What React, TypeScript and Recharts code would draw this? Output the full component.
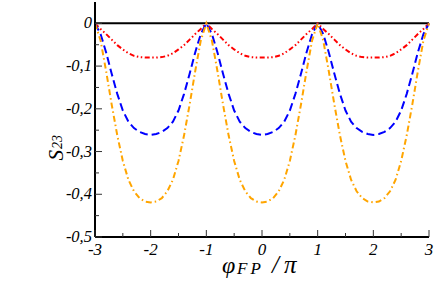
import React from 'react';
import { LineChart, Line, XAxis, YAxis, ReferenceLine, Label } from 'recharts';

// phi_FP / pi sample positions
const phi = [
  -3, -2.9, -2.8, -2.7, -2.6, -2.5, -2.4, -2.3, -2.2, -2.1,
  -2, -1.9, -1.8, -1.7, -1.6, -1.5, -1.4, -1.3, -1.2, -1.1,
  -1, -0.9, -0.8, -0.7, -0.6, -0.5, -0.4, -0.3, -0.2, -0.1,
  0, 0.1, 0.2, 0.3, 0.4, 0.5, 0.6, 0.7, 0.8, 0.9,
  1, 1.1, 1.2, 1.3, 1.4, 1.5, 1.6, 1.7, 1.8, 1.9,
  2, 2.1, 2.2, 2.3, 2.4, 2.5, 2.6, 2.7, 2.8, 2.9,
  3,
];

// S23, one value per phi sample
const redS23 = [
  0, -0.013, -0.025, -0.038, -0.051, -0.061, -0.07, -0.076, -0.079, -0.08,
  -0.08, -0.08, -0.079, -0.076, -0.07, -0.061, -0.051, -0.038, -0.025, -0.013,
  0, -0.013, -0.025, -0.038, -0.051, -0.061, -0.07, -0.076, -0.079, -0.08,
  -0.08, -0.08, -0.079, -0.076, -0.07, -0.061, -0.051, -0.038, -0.025, -0.013,
  0, -0.013, -0.025, -0.038, -0.051, -0.061, -0.07, -0.076, -0.079, -0.08,
  -0.08, -0.08, -0.079, -0.076, -0.07, -0.061, -0.051, -0.038, -0.025, -0.013,
  0,
];

const blueS23 = [
  0, -0.025, -0.068, -0.118, -0.165, -0.204, -0.23, -0.245, -0.254, -0.259,
  -0.261, -0.259, -0.254, -0.245, -0.23, -0.204, -0.165, -0.118, -0.068, -0.025,
  0, -0.025, -0.068, -0.118, -0.165, -0.204, -0.23, -0.245, -0.254, -0.259,
  -0.261, -0.259, -0.254, -0.245, -0.23, -0.204, -0.165, -0.118, -0.068, -0.025,
  0, -0.025, -0.068, -0.118, -0.165, -0.204, -0.23, -0.245, -0.254, -0.259,
  -0.261, -0.259, -0.254, -0.245, -0.23, -0.204, -0.165, -0.118, -0.068, -0.025,
  0,
];

const orangeS23 = [
  0, -0.04, -0.112, -0.19, -0.262, -0.322, -0.366, -0.393, -0.409, -0.417,
  -0.419, -0.417, -0.409, -0.393, -0.366, -0.322, -0.262, -0.19, -0.112, -0.04,
  0, -0.04, -0.112, -0.19, -0.262, -0.322, -0.366, -0.393, -0.409, -0.417,
  -0.419, -0.417, -0.409, -0.393, -0.366, -0.322, -0.262, -0.19, -0.112, -0.04,
  0, -0.04, -0.112, -0.19, -0.262, -0.322, -0.366, -0.393, -0.409, -0.417,
  -0.419, -0.417, -0.409, -0.393, -0.366, -0.322, -0.262, -0.19, -0.112, -0.04,
  0,
];

const xTicks = [-3, -2.5, -2, -1.5, -1, -0.5, 0, 0.5, 1, 1.5, 2, 2.5, 3];
const yTicks = [-0.5, -0.45, -0.4, -0.35, -0.3, -0.25, -0.2, -0.15, -0.1, -0.05, 0];

const data = phi.map((x, i) => ({
  x,
  red: redS23[i],
  blue: blueS23[i],
  orange: orangeS23[i],
}));

const FONT = "'Liberation Serif', 'Times New Roman', 'DejaVu Serif', serif";
const TICK_COLOR = '#333';
const txt = { fontFamily: FONT, fontStyle: 'italic' as const };

const isMajorX = (v: number) => Number.isInteger(v);
const isMajorY = (v: number) => Math.abs(v * 10 - Math.round(v * 10)) < 1e-6;
const fmtY = (v: number) => (v === 0 ? '0' : v.toFixed(1).replace('.', ','));

const BottomTick = (p: any) => {
  const { x, y, payload } = p;
  const major = isMajorX(payload.value);
  return (
    <g>
      <line x1={x} y1={y} x2={x} y2={y - (major ? 7 : 4)} stroke={TICK_COLOR} />
      {major && (
        <text x={x} y={y + 18} textAnchor="middle" style={{ ...txt, fontSize: 17 }} fill="#000">
          {String(payload.value)}
        </text>
      )}
    </g>
  );
};

const TopTick = (p: any) => {
  const { x, y, payload } = p;
  const major = isMajorX(payload.value);
  return <line x1={x} y1={y} x2={x} y2={y + (major ? 7 : 4)} stroke={TICK_COLOR} />;
};

const LeftTick = (p: any) => {
  const { x, y, payload } = p;
  const major = isMajorY(payload.value);
  return (
    <g>
      <line x1={x} y1={y} x2={x + (major ? 7 : 4)} y2={y} stroke={TICK_COLOR} />
      {major && (
        <text x={x - 3} y={y + 5} textAnchor="end" style={{ ...txt, fontSize: 16.5 }} fill="#000">
          {fmtY(payload.value)}
        </text>
      )}
    </g>
  );
};

const RightTick = (p: any) => {
  const { x, y, payload } = p;
  const major = isMajorY(payload.value);
  return <line x1={x} y1={y} x2={x - (major ? 7 : 4)} y2={y} stroke={TICK_COLOR} />;
};

const XTitle = (p: any) => {
  const vb = p.viewBox || { x: 95, y: 237, width: 334 };
  const cx = vb.x + vb.width / 2;
  const by = vb.y + 36;
  return (
    <text y={by} style={txt} fill="#000">
      <tspan x={cx - 40} fontSize={24}>φ</tspan>
      <tspan x={cx - 25} y={by + 1} fontSize={17} letterSpacing={3}>FP</tspan>
      <tspan x={cx + 10} y={by} fontSize={25}>/</tspan>
      <tspan x={cx + 22} fontSize={25}>π</tspan>
    </text>
  );
};

const YTitle = (p: any) => {
  const vb = p.viewBox || { x: 0, y: 2, width: 95, height: 235 };
  const tx = 63;
  const ty = vb.y + vb.height / 2 + 41;
  return (
    <text x={tx} y={ty} transform={`rotate(-90, ${tx}, ${ty})`} textAnchor="start" style={txt} fill="#000">
      <tspan fontSize={21}>S</tspan>
      <tspan fontSize={14} dx={1} dy={-1}>23</tspan>
    </text>
  );
};

export default function App() {
  return (
    <div style={{ position: 'absolute', left: 0, top: 0, background: '#fff' }}>
      <LineChart width={436} height={281} data={data} margin={{ top: 2, right: 7, bottom: 0, left: 0 }}>
        <XAxis
          xAxisId="b"
          dataKey="x"
          type="number"
          domain={[-3, 3]}
          ticks={xTicks}
          orientation="bottom"
          height={44}
          tickSize={0}
          tickMargin={0}
          tickLine={false}
          axisLine={{ stroke: '#000', strokeWidth: 2 }}
          tick={BottomTick}
          interval={0}
        >
          <Label content={XTitle} />
        </XAxis>
        <XAxis
          xAxisId="t"
          dataKey="x"
          type="number"
          domain={[-3, 3]}
          ticks={xTicks}
          orientation="top"
          height={0}
          tickSize={0}
          tickMargin={0}
          tickLine={false}
          axisLine={{ stroke: '#000', strokeWidth: 2 }}
          tick={TopTick}
          interval={0}
        />
        <YAxis
          yAxisId="l"
          type="number"
          domain={[-0.5, 0.05]}
          ticks={yTicks}
          orientation="left"
          width={95}
          tickSize={0}
          tickMargin={0}
          tickLine={false}
          axisLine={{ stroke: '#000', strokeWidth: 2 }}
          tick={LeftTick}
          interval={0}
          allowDataOverflow
        >
          <Label content={YTitle} />
        </YAxis>
        <YAxis
          yAxisId="r"
          type="number"
          domain={[-0.5, 0.05]}
          ticks={yTicks}
          orientation="right"
          width={0}
          tickSize={0}
          tickMargin={0}
          tickLine={false}
          axisLine={{ stroke: '#000', strokeWidth: 2 }}
          tick={RightTick}
          interval={0}
          allowDataOverflow
        />
        <ReferenceLine xAxisId="b" yAxisId="l" y={0} stroke="#000" strokeWidth={2} />
        <Line xAxisId="b" yAxisId="l" type="linear" dataKey="red" stroke="#ff0000" strokeWidth={2}
          strokeDasharray="5 2.5 1.5 2.5 1.5 2.5" dot={false} isAnimationActive={false} />
        <Line xAxisId="b" yAxisId="l" type="linear" dataKey="blue" stroke="#0000ff" strokeWidth={2}
          strokeDasharray="8 4" dot={false} isAnimationActive={false} />
        <Line xAxisId="b" yAxisId="l" type="linear" dataKey="orange" stroke="#ffa500" strokeWidth={2}
          strokeDasharray="6 3 1.5 3" dot={false} isAnimationActive={false} />
      </LineChart>
    </div>
  );
}
